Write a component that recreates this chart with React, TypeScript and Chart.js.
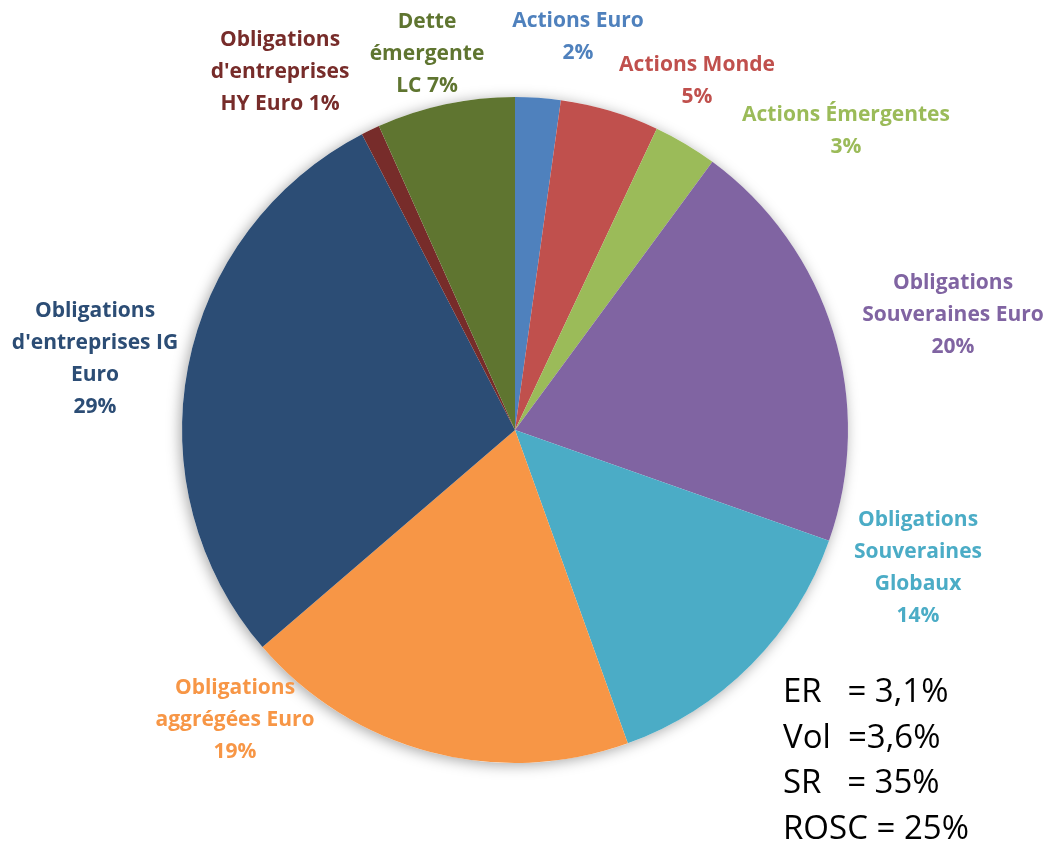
import React, { useEffect, useRef } from "react";
import { Chart, registerables } from "chart.js";

Chart.register(...registerables);

const categories = [
  "Actions Euro",
  "Actions Monde",
  "Actions Émergentes",
  "Obligations Souveraines Euro",
  "Obligations Souveraines Globaux",
  "Obligations aggrégées Euro",
  "Obligations d'entreprises IG Euro",
  "Obligations d'entreprises HY Euro",
  "Dette émergente LC",
];
const weights = [2.2, 4.8, 3.1, 20.3, 14.1, 19.2, 28.7, 0.9, 6.7];
const colors = [
  "#4F81BD",
  "#C0504D",
  "#9BBB59",
  "#8064A2",
  "#4BACC6",
  "#F79646",
  "#2C4D75",
  "#772C2A",
  "#5F7530",
];
// label text lines (percentage appended from weights)
const labelLines: string[][] = [
  ["Actions Euro", "{p}"],
  ["Actions Monde", "{p}"],
  ["Actions Émergentes", "{p}"],
  ["Obligations", "Souveraines Euro", "{p}"],
  ["Obligations", "Souveraines", "Globaux", "{p}"],
  ["Obligations", "aggrégées Euro", "{p}"],
  ["Obligations", "d'entreprises IG", "Euro", "{p}"],
  ["Obligations", "d'entreprises", "HY Euro {p}"],
  ["Dette", "émergente", "LC {p}"],
];
// label layout: center x and first-line y
const labelPos: [number, number][] = [
  [578, 21],
  [697, 65],
  [846, 115],
  [953, 283],
  [918, 520],
  [235, 688],
  [95, 311],
  [280, 40],
  [427, 22],
];
const statsLines = ["ER   = 3,1%", "Vol  =3,6%", "SR   = 35%", "ROSC = 25%"];

export default function App() {
  const ref = useRef<HTMLCanvasElement>(null);
  useEffect(() => {
    if (!ref.current) return;
    const shadowPlugin = {
      id: "shadowPlugin",
      beforeDatasetsDraw(chart: any) {
        const arc = chart.getDatasetMeta(0).data[0];
        if (!arc) return;
        const { x, y, outerRadius } = arc;
        const ctx = chart.ctx;
        ctx.save();
        ctx.shadowColor = "rgba(0,0,0,0.35)";
        ctx.shadowBlur = 14;
        ctx.shadowOffsetX = -2;
        ctx.shadowOffsetY = 2;
        ctx.fillStyle = "#ffffff";
        ctx.beginPath();
        ctx.arc(x, y, outerRadius, 0, Math.PI * 2);
        ctx.fill();
        ctx.restore();
      },
    };
    const labelPlugin = {
      id: "labelPlugin",
      afterDatasetsDraw(chart: any) {
        const ctx = chart.ctx;
        ctx.save();
        ctx.textAlign = "center";
        ctx.textBaseline = "middle";
        ctx.font = "bold 21px 'Open Sans'";
        const lh = 32;
        labelLines.forEach((lines, i) => {
          const [cx, cy] = labelPos[i];
          ctx.fillStyle = colors[i];
          lines.forEach((l, j) => {
            ctx.fillText(l.replace("{p}", Math.round(weights[i]) + "%"), cx, cy + j * lh);
          });
        });
        ctx.textAlign = "left";
        ctx.fillStyle = "#000000";
        ctx.font = "33px 'Open Sans'";
        statsLines.forEach((l, j) => {
          ctx.fillText(l, 783, 693 + j * 45.5);
        });
        ctx.restore();
      },
    };
    const chart = new Chart(ref.current, {
      type: "pie",
      data: {
        labels: categories,
        datasets: [
          {
            data: weights,
            backgroundColor: colors,
            borderWidth: 0,
          },
        ],
      },
      options: {
        animation: false,
        responsive: false,
        maintainAspectRatio: false,
        layout: { padding: { left: 182, right: 205, top: 97, bottom: 82 } },
        plugins: {
          legend: { display: false },
          tooltip: { enabled: false },
        },
      },
      plugins: [shadowPlugin, labelPlugin],
    });
    return () => chart.destroy();
  }, []);
  return (
    <div style={{ position: "absolute", left: 0, top: 0, width: 1053, height: 845, background: "#fff" }}>
      <canvas ref={ref} width={1053} height={845} style={{ width: 1053, height: 845 }} />
    </div>
  );
}
